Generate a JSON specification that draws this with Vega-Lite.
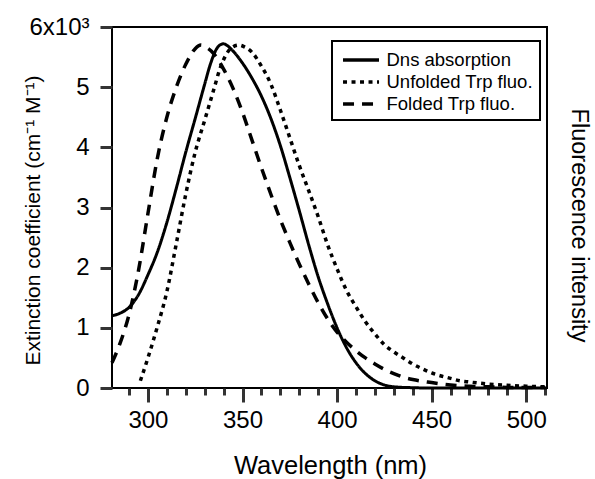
{
  "$schema": "https://vega.github.io/schema/vega-lite/v6.json",
  "width": 435,
  "height": 361,
  "autosize": {"type": "none"},
  "padding": {"left": 112, "top": 27, "right": 48, "bottom": 91},
  "config": {
    "view": {"stroke": "black", "strokeWidth": 2},
    "font": "Liberation Sans",
    "axis": {
      "domain": false,
      "labelColor": "black", "titleColor": "black", "labelFont": "Liberation Sans",
      "titleFont": "Liberation Sans", "titleFontWeight": "normal", "grid": false,
      "labelFlush": false
    },
    "legend": {"labelFont": "Liberation Sans", "labelColor": "black", "strokeWidth": 2}
  },
  "datasets": {
    "spectra": [
      {"series": "Dns absorption", "wl": 281, "v": 1.2},
      {"series": "Dns absorption", "wl": 285, "v": 1.24},
      {"series": "Dns absorption", "wl": 290, "v": 1.34},
      {"series": "Dns absorption", "wl": 295, "v": 1.55},
      {"series": "Dns absorption", "wl": 300, "v": 1.88},
      {"series": "Dns absorption", "wl": 305, "v": 2.26},
      {"series": "Dns absorption", "wl": 310, "v": 2.75},
      {"series": "Dns absorption", "wl": 315, "v": 3.32},
      {"series": "Dns absorption", "wl": 320, "v": 3.92},
      {"series": "Dns absorption", "wl": 325, "v": 4.48},
      {"series": "Dns absorption", "wl": 330, "v": 5.05},
      {"series": "Dns absorption", "wl": 333, "v": 5.38},
      {"series": "Dns absorption", "wl": 336, "v": 5.62},
      {"series": "Dns absorption", "wl": 338, "v": 5.7},
      {"series": "Dns absorption", "wl": 340, "v": 5.72},
      {"series": "Dns absorption", "wl": 342, "v": 5.69},
      {"series": "Dns absorption", "wl": 345, "v": 5.6},
      {"series": "Dns absorption", "wl": 350, "v": 5.4},
      {"series": "Dns absorption", "wl": 355, "v": 5.15},
      {"series": "Dns absorption", "wl": 360, "v": 4.85},
      {"series": "Dns absorption", "wl": 365, "v": 4.48},
      {"series": "Dns absorption", "wl": 370, "v": 4.03},
      {"series": "Dns absorption", "wl": 375, "v": 3.5},
      {"series": "Dns absorption", "wl": 380, "v": 2.95},
      {"series": "Dns absorption", "wl": 385, "v": 2.38},
      {"series": "Dns absorption", "wl": 390, "v": 1.85},
      {"series": "Dns absorption", "wl": 395, "v": 1.4},
      {"series": "Dns absorption", "wl": 400, "v": 1.0},
      {"series": "Dns absorption", "wl": 405, "v": 0.67},
      {"series": "Dns absorption", "wl": 410, "v": 0.42},
      {"series": "Dns absorption", "wl": 415, "v": 0.24},
      {"series": "Dns absorption", "wl": 420, "v": 0.12},
      {"series": "Dns absorption", "wl": 425, "v": 0.05},
      {"series": "Dns absorption", "wl": 430, "v": 0.02},
      {"series": "Dns absorption", "wl": 440, "v": 0.005},
      {"series": "Dns absorption", "wl": 450, "v": 0},
      {"series": "Dns absorption", "wl": 470, "v": 0},
      {"series": "Dns absorption", "wl": 490, "v": 0},
      {"series": "Dns absorption", "wl": 511, "v": 0},
      {"series": "Unfolded Trp fluo.", "wl": 296, "v": 0.12},
      {"series": "Unfolded Trp fluo.", "wl": 300, "v": 0.5},
      {"series": "Unfolded Trp fluo.", "wl": 305, "v": 1.02},
      {"series": "Unfolded Trp fluo.", "wl": 310, "v": 1.6},
      {"series": "Unfolded Trp fluo.", "wl": 315, "v": 2.4},
      {"series": "Unfolded Trp fluo.", "wl": 320, "v": 3.22},
      {"series": "Unfolded Trp fluo.", "wl": 325, "v": 3.92},
      {"series": "Unfolded Trp fluo.", "wl": 330, "v": 4.45},
      {"series": "Unfolded Trp fluo.", "wl": 335, "v": 4.98},
      {"series": "Unfolded Trp fluo.", "wl": 338, "v": 5.3},
      {"series": "Unfolded Trp fluo.", "wl": 341, "v": 5.52},
      {"series": "Unfolded Trp fluo.", "wl": 344, "v": 5.65},
      {"series": "Unfolded Trp fluo.", "wl": 348, "v": 5.7},
      {"series": "Unfolded Trp fluo.", "wl": 351, "v": 5.67},
      {"series": "Unfolded Trp fluo.", "wl": 355, "v": 5.58},
      {"series": "Unfolded Trp fluo.", "wl": 360, "v": 5.35},
      {"series": "Unfolded Trp fluo.", "wl": 365, "v": 5.05},
      {"series": "Unfolded Trp fluo.", "wl": 370, "v": 4.62},
      {"series": "Unfolded Trp fluo.", "wl": 375, "v": 4.16},
      {"series": "Unfolded Trp fluo.", "wl": 380, "v": 3.7},
      {"series": "Unfolded Trp fluo.", "wl": 385, "v": 3.28},
      {"series": "Unfolded Trp fluo.", "wl": 390, "v": 2.85},
      {"series": "Unfolded Trp fluo.", "wl": 395, "v": 2.38},
      {"series": "Unfolded Trp fluo.", "wl": 400, "v": 1.98},
      {"series": "Unfolded Trp fluo.", "wl": 405, "v": 1.62},
      {"series": "Unfolded Trp fluo.", "wl": 410, "v": 1.35},
      {"series": "Unfolded Trp fluo.", "wl": 415, "v": 1.1},
      {"series": "Unfolded Trp fluo.", "wl": 420, "v": 0.9},
      {"series": "Unfolded Trp fluo.", "wl": 425, "v": 0.72},
      {"series": "Unfolded Trp fluo.", "wl": 430, "v": 0.6},
      {"series": "Unfolded Trp fluo.", "wl": 435, "v": 0.5},
      {"series": "Unfolded Trp fluo.", "wl": 440, "v": 0.4},
      {"series": "Unfolded Trp fluo.", "wl": 445, "v": 0.32},
      {"series": "Unfolded Trp fluo.", "wl": 450, "v": 0.25},
      {"series": "Unfolded Trp fluo.", "wl": 455, "v": 0.2},
      {"series": "Unfolded Trp fluo.", "wl": 460, "v": 0.16},
      {"series": "Unfolded Trp fluo.", "wl": 465, "v": 0.12},
      {"series": "Unfolded Trp fluo.", "wl": 470, "v": 0.1},
      {"series": "Unfolded Trp fluo.", "wl": 480, "v": 0.065},
      {"series": "Unfolded Trp fluo.", "wl": 490, "v": 0.045},
      {"series": "Unfolded Trp fluo.", "wl": 500, "v": 0.03},
      {"series": "Unfolded Trp fluo.", "wl": 510, "v": 0.02},
      {"series": "Folded Trp fluo.", "wl": 281, "v": 0.42},
      {"series": "Folded Trp fluo.", "wl": 285, "v": 0.72},
      {"series": "Folded Trp fluo.", "wl": 290, "v": 1.22},
      {"series": "Folded Trp fluo.", "wl": 295, "v": 1.95},
      {"series": "Folded Trp fluo.", "wl": 300, "v": 2.9},
      {"series": "Folded Trp fluo.", "wl": 305, "v": 3.82},
      {"series": "Folded Trp fluo.", "wl": 310, "v": 4.5},
      {"series": "Folded Trp fluo.", "wl": 315, "v": 5.0},
      {"series": "Folded Trp fluo.", "wl": 320, "v": 5.38},
      {"series": "Folded Trp fluo.", "wl": 325, "v": 5.64},
      {"series": "Folded Trp fluo.", "wl": 328, "v": 5.7},
      {"series": "Folded Trp fluo.", "wl": 331, "v": 5.66},
      {"series": "Folded Trp fluo.", "wl": 335, "v": 5.55},
      {"series": "Folded Trp fluo.", "wl": 340, "v": 5.3},
      {"series": "Folded Trp fluo.", "wl": 345, "v": 4.98},
      {"series": "Folded Trp fluo.", "wl": 350, "v": 4.58},
      {"series": "Folded Trp fluo.", "wl": 355, "v": 4.12},
      {"series": "Folded Trp fluo.", "wl": 360, "v": 3.66},
      {"series": "Folded Trp fluo.", "wl": 365, "v": 3.22},
      {"series": "Folded Trp fluo.", "wl": 370, "v": 2.8},
      {"series": "Folded Trp fluo.", "wl": 375, "v": 2.42},
      {"series": "Folded Trp fluo.", "wl": 380, "v": 2.06},
      {"series": "Folded Trp fluo.", "wl": 385, "v": 1.73},
      {"series": "Folded Trp fluo.", "wl": 390, "v": 1.42},
      {"series": "Folded Trp fluo.", "wl": 395, "v": 1.15},
      {"series": "Folded Trp fluo.", "wl": 400, "v": 0.93},
      {"series": "Folded Trp fluo.", "wl": 405, "v": 0.76},
      {"series": "Folded Trp fluo.", "wl": 410, "v": 0.62},
      {"series": "Folded Trp fluo.", "wl": 415, "v": 0.5},
      {"series": "Folded Trp fluo.", "wl": 420, "v": 0.4},
      {"series": "Folded Trp fluo.", "wl": 425, "v": 0.31},
      {"series": "Folded Trp fluo.", "wl": 430, "v": 0.24},
      {"series": "Folded Trp fluo.", "wl": 435, "v": 0.18},
      {"series": "Folded Trp fluo.", "wl": 440, "v": 0.14},
      {"series": "Folded Trp fluo.", "wl": 450, "v": 0.09},
      {"series": "Folded Trp fluo.", "wl": 460, "v": 0.05},
      {"series": "Folded Trp fluo.", "wl": 470, "v": 0.03},
      {"series": "Folded Trp fluo.", "wl": 480, "v": 0.02},
      {"series": "Folded Trp fluo.", "wl": 490, "v": 0.01},
      {"series": "Folded Trp fluo.", "wl": 500, "v": 0.01},
      {"series": "Folded Trp fluo.", "wl": 510, "v": 0.01}
    ]
  },
  "layer": [
    {
      "data": {"name": "spectra"},
      "transform": [{"filter": "datum.series === 'Dns absorption'"}],
      "mark": {"type": "line", "color": "black", "strokeWidth": 3, "strokeCap": "butt", "interpolate": "monotone"},
      "encoding": {
        "x": {
          "field": "wl", "type": "quantitative",
          "scale": {"domain": [281, 511], "nice": false, "zero": false},
          "axis": {
            "orient": "bottom", "values": [290, 310, 320, 330, 340, 360, 370, 380, 390, 410, 420, 430, 440, 460, 470, 480, 490, 510],
            "labels": false, "title": null,
            "ticks": true, "tickSize": 7, "tickColor": "#333333", "tickWidth": 3, "tickOpacity": 1
          }
        },
        "y": {
          "field": "v", "type": "quantitative",
          "scale": {"domain": [0, 6], "nice": false, "zero": true},
          "axis": {
            "orient": "left", "values": [0, 1, 2, 3, 4, 5, 6],
            "labelExpr": "datum.value == 6 ? '6x10³' : datum.label",
            "ticks": true, "tickSize": 12, "tickColor": "#333333", "tickWidth": 3, "tickOpacity": 1,
            "labelPadding": 11, "labelFontSize": 24,
            "title": "Extinction coefficient (cm⁻¹ M⁻¹)", "titleFontSize": 21,
            "titleX": -79, "titleY": 193, "titleAngle": -90, "titleAlign": "center", "titleBaseline": "middle"
          }
        },
        "strokeDash": {
          "field": "series", "type": "nominal",
          "scale": {"domain": ["Dns absorption", "Unfolded Trp fluo.", "Folded Trp fluo."], "range": [[1, 0], [4, 4.5], [11, 8]]},
          "legend": {
            "title": null, "orient": "none", "legendX": 220, "legendY": 14,
            "strokeColor": "black", "padding": 6.5, "fillColor": "white",
            "symbolType": "M-0.76,0H2.67", "symbolSize": 441, "symbolStrokeWidth": 3.5, "symbolStrokeColor": "black",
            "labelFontSize": 18.5, "labelOffset": 23, "rowPadding": 0, "labelLimit": 300
          }
        }
      }
    },
    {
      "data": {"name": "spectra"},
      "transform": [{"filter": "datum.series !== 'Dns absorption'"}],
      "mark": {"type": "line", "color": "black", "strokeWidth": 3.5, "strokeCap": "butt", "interpolate": "monotone"},
      "encoding": {
        "x": {
          "field": "wl", "type": "quantitative",
          "scale": {"domain": [281, 511], "nice": false, "zero": false},
          "axis": {
            "orient": "bottom", "values": [300, 350, 400, 450, 500],
            "ticks": true, "tickSize": 14, "tickColor": "#333333", "tickWidth": 3, "tickOpacity": 1,
            "labelPadding": 6, "labelFontSize": 24,
            "title": "Wavelength (nm)", "titleFontSize": 25.5,
            "titleX": 218, "titleY": 77, "titleAlign": "center", "titleBaseline": "middle"
          }
        },
        "y": {
          "field": "v", "type": "quantitative",
          "scale": {"domain": [0, 6], "nice": false, "zero": true},
          "axis": {
            "orient": "right", "labels": false, "ticks": false, "domain": false,
            "title": "Fluorescence intensity", "titleFontSize": 23.5,
            "titleX": 31, "titleY": 198, "titleAngle": 90, "titleAlign": "center", "titleBaseline": "middle"
          }
        },
        "strokeDash": {
          "field": "series", "type": "nominal",
          "scale": {"domain": ["Dns absorption", "Unfolded Trp fluo.", "Folded Trp fluo."], "range": [[1, 0], [4, 4.5], [11, 8]]},
          "legend": {
            "title": null, "orient": "none", "legendX": 220, "legendY": 14,
            "strokeColor": "black", "padding": 6.5, "fillColor": "white",
            "symbolType": "M-0.76,0H2.67", "symbolSize": 441, "symbolStrokeWidth": 3.5, "symbolStrokeColor": "black",
            "labelFontSize": 18.5, "labelOffset": 23, "rowPadding": 0, "labelLimit": 300
          }
        }
      }
    }
  ],
  "resolve": {"scale": {"y": "independent"}, "axis": {"x": "independent"}}
}
